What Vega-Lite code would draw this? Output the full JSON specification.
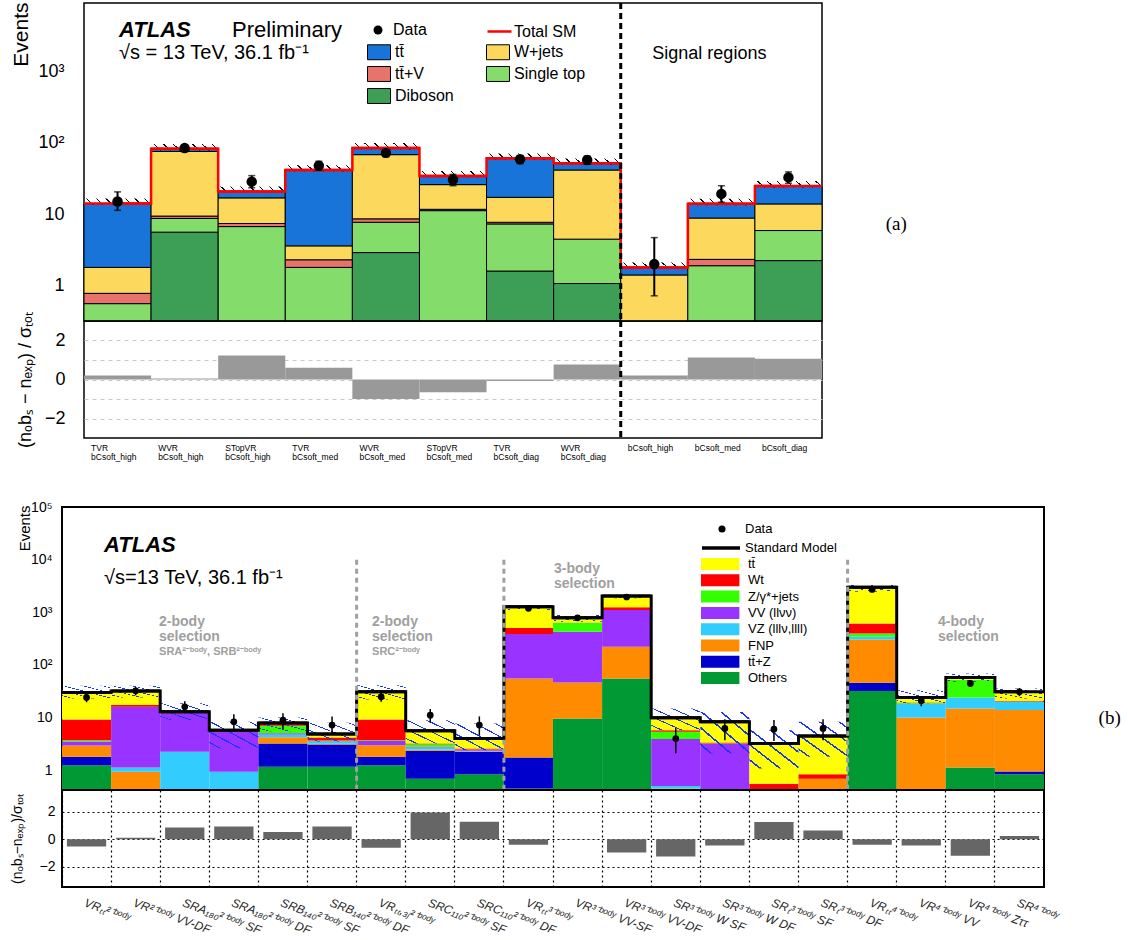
{
"$schema": "https://vega.github.io/schema/vega-lite/v6.json",
"background": "white",
"padding": {"left": 8, "top": 0, "right": 0, "bottom": 0},
"spacing": 37,
"datasets": {
 "a_procs": [{"proc":"Diboson","order":1},{"proc":"Single top","order":2},{"proc":"tt̄+V","order":3},{"proc":"W+jets","order":4},{"proc":"tt̄","order":5}],
 "a_comp": [
  {"bin":"TVR bCsoft_high","proc":"Single top","value":0.56},{"bin":"TVR bCsoft_high","proc":"tt̄+V","value":0.22},{"bin":"TVR bCsoft_high","proc":"W+jets","value":1.02},{"bin":"TVR bCsoft_high","proc":"tt̄","value":12.3},
  {"bin":"WVR bCsoft_high","proc":"Diboson","value":5.6},{"bin":"WVR bCsoft_high","proc":"Single top","value":3.1},{"bin":"WVR bCsoft_high","proc":"tt̄+V","value":0.7},{"bin":"WVR bCsoft_high","proc":"W+jets","value":66},{"bin":"WVR bCsoft_high","proc":"tt̄","value":7},
  {"bin":"STopVR bCsoft_high","proc":"Single top","value":6.7},{"bin":"STopVR bCsoft_high","proc":"tt̄+V","value":0.7},{"bin":"STopVR bCsoft_high","proc":"W+jets","value":9.5},{"bin":"STopVR bCsoft_high","proc":"tt̄","value":3.9},
  {"bin":"TVR bCsoft_med","proc":"Single top","value":1.8},{"bin":"TVR bCsoft_med","proc":"tt̄+V","value":0.5},{"bin":"TVR bCsoft_med","proc":"W+jets","value":1.3},{"bin":"TVR bCsoft_med","proc":"tt̄","value":37.9},
  {"bin":"WVR bCsoft_med","proc":"Diboson","value":2.9},{"bin":"WVR bCsoft_med","proc":"Single top","value":4.8},{"bin":"WVR bCsoft_med","proc":"tt̄+V","value":0.9},{"bin":"WVR bCsoft_med","proc":"W+jets","value":59.4},{"bin":"WVR bCsoft_med","proc":"tt̄","value":16.3},
  {"bin":"STopVR bCsoft_med","proc":"Single top","value":11.2},{"bin":"STopVR bCsoft_med","proc":"tt̄+V","value":0.5},{"bin":"STopVR bCsoft_med","proc":"W+jets","value":14.2},{"bin":"STopVR bCsoft_med","proc":"tt̄","value":8.3},
  {"bin":"TVR bCsoft_diag","proc":"Diboson","value":1.6},{"bin":"TVR bCsoft_diag","proc":"Single top","value":5.7},{"bin":"TVR bCsoft_diag","proc":"tt̄+V","value":0.4},{"bin":"TVR bCsoft_diag","proc":"W+jets","value":9.5},{"bin":"TVR bCsoft_diag","proc":"tt̄","value":43.2},
  {"bin":"WVR bCsoft_diag","proc":"Diboson","value":1.07},{"bin":"WVR bCsoft_diag","proc":"Single top","value":3.4},{"bin":"WVR bCsoft_diag","proc":"W+jets","value":37},{"bin":"WVR bCsoft_diag","proc":"tt̄","value":9.9},
  {"bin":"bCsoft_high","proc":"W+jets","value":1.41},{"bin":"bCsoft_high","proc":"tt̄","value":0.39},
  {"bin":"bCsoft_med","proc":"Single top","value":1.9},{"bin":"bCsoft_med","proc":"tt̄+V","value":0.43},{"bin":"bCsoft_med","proc":"W+jets","value":6.5},{"bin":"bCsoft_med","proc":"tt̄","value":5.2},
  {"bin":"bCsoft_diag","proc":"Diboson","value":2.24},{"bin":"bCsoft_diag","proc":"Single top","value":3.66},{"bin":"bCsoft_diag","proc":"W+jets","value":8.0},{"bin":"bCsoft_diag","proc":"tt̄","value":10.9}
 ],
 "a_bins": [
  {"bin":"TVR bCsoft_high","total":14.1,"sm_lo":13.4,"sm_hi":16.5,"data":15,"data_lo":11.3,"data_hi":20.5,"pull":0.2},
  {"bin":"WVR bCsoft_high","total":82.4,"sm_lo":78,"sm_hi":96,"data":84,"data_lo":75,"data_hi":93,"pull":0.05},
  {"bin":"STopVR bCsoft_high","total":20.8,"sm_lo":19.8,"sm_hi":24.3,"data":28.5,"data_lo":23.4,"data_hi":34.6,"pull":1.23},
  {"bin":"TVR bCsoft_med","total":41.5,"sm_lo":39.4,"sm_hi":48.5,"data":47.7,"data_lo":41,"data_hi":55,"pull":0.6},
  {"bin":"WVR bCsoft_med","total":84.3,"sm_lo":80,"sm_hi":98.6,"data":72,"data_lo":63.5,"data_hi":80.5,"pull":-1.0},
  {"bin":"STopVR bCsoft_med","total":34.2,"sm_lo":32.5,"sm_hi":40,"data":30.4,"data_lo":25,"data_hi":36,"pull":-0.65},
  {"bin":"TVR bCsoft_diag","total":60.4,"sm_lo":57.4,"sm_hi":70.7,"data":58.5,"data_lo":51,"data_hi":66,"pull":-0.08},
  {"bin":"WVR bCsoft_diag","total":51.4,"sm_lo":48.8,"sm_hi":60.1,"data":57.3,"data_lo":50,"data_hi":65,"pull":0.77},
  {"bin":"bCsoft_high","total":1.8,"sm_lo":1.71,"sm_hi":2.1,"data":2.0,"data_lo":0.72,"data_hi":4.7,"pull":0.2},
  {"bin":"bCsoft_med","total":14.0,"sm_lo":13.3,"sm_hi":16.4,"data":19.2,"data_lo":14.7,"data_hi":25,"pull":1.13},
  {"bin":"bCsoft_diag","total":24.8,"sm_lo":23.6,"sm_hi":29,"data":32.7,"data_lo":27,"data_hi":39,"pull":1.06}
 ],
 "b_procs": [{"proc":"Others","order":1},{"proc":"tt̄+Z","order":2},{"proc":"FNP","order":3},{"proc":"VZ (lllν,llll)","order":4},{"proc":"VV (llνν)","order":5},{"proc":"Z/γ*+jets","order":6},{"proc":"Wt","order":7},{"proc":"tt̄","order":8}],
 "b_comp": [
  {"bin":"b01","proc":"Others","value":1.24},{"bin":"b01","proc":"tt̄+Z","value":0.55},{"bin":"b01","proc":"FNP","value":1.16},{"bin":"b01","proc":"VV (llνν)","value":0.55},{"bin":"b01","proc":"Z/γ*+jets","value":0.2},{"bin":"b01","proc":"Wt","value":5.5},{"bin":"b01","proc":"tt̄","value":20.8},
  {"bin":"b02","proc":"FNP","value":0.93},{"bin":"b02","proc":"VZ (lllν,llll)","value":0.19},{"bin":"b02","proc":"VV (llνν)","value":14.9},{"bin":"b02","proc":"Wt","value":1.2},{"bin":"b02","proc":"tt̄","value":14.6},
  {"bin":"b03","proc":"VZ (lllν,llll)","value":2.23},{"bin":"b03","proc":"VV (llνν)","value":10.7},
  {"bin":"b04","proc":"VZ (lllν,llll)","value":0.93},{"bin":"b04","proc":"VV (llνν)","value":4.4},{"bin":"b04","proc":"tt̄","value":0.4},
  {"bin":"b05","proc":"Others","value":1.16},{"bin":"b05","proc":"tt̄+Z","value":2.04},{"bin":"b05","proc":"FNP","value":1.0},{"bin":"b05","proc":"VZ (lllν,llll)","value":0.57},{"bin":"b05","proc":"VV (llνν)","value":0.25},{"bin":"b05","proc":"Z/γ*+jets","value":1.95},{"bin":"b05","proc":"Wt","value":0.5},{"bin":"b05","proc":"tt̄","value":0.4},
  {"bin":"b06","proc":"Others","value":1.16},{"bin":"b06","proc":"tt̄+Z","value":1.9},{"bin":"b06","proc":"FNP","value":0.1},{"bin":"b06","proc":"VZ (lllν,llll)","value":0.3},{"bin":"b06","proc":"VV (llνν)","value":0.1},{"bin":"b06","proc":"Z/γ*+jets","value":0.1},{"bin":"b06","proc":"Wt","value":0.5},{"bin":"b06","proc":"tt̄","value":0.7},
  {"bin":"b07","proc":"Others","value":1.24},{"bin":"b07","proc":"tt̄+Z","value":0.55},{"bin":"b07","proc":"FNP","value":1.2},{"bin":"b07","proc":"VV (llνν)","value":0.6},{"bin":"b07","proc":"Z/γ*+jets","value":0.13},{"bin":"b07","proc":"Wt","value":5.5},{"bin":"b07","proc":"tt̄","value":21.6},
  {"bin":"b08","proc":"Others","value":0.69},{"bin":"b08","proc":"tt̄+Z","value":1.64},{"bin":"b08","proc":"FNP","value":0.14},{"bin":"b08","proc":"VZ (lllν,llll)","value":0.23},{"bin":"b08","proc":"VV (llνν)","value":0.1},{"bin":"b08","proc":"Z/γ*+jets","value":0.32},{"bin":"b08","proc":"Wt","value":0.1},{"bin":"b08","proc":"tt̄","value":2.4},
  {"bin":"b09","proc":"Others","value":0.84},{"bin":"b09","proc":"tt̄+Z","value":1.39},{"bin":"b09","proc":"FNP","value":0.05},{"bin":"b09","proc":"VZ (lllν,llll)","value":0.05},{"bin":"b09","proc":"VV (llνν)","value":0.1},{"bin":"b09","proc":"Z/γ*+jets","value":0.05},{"bin":"b09","proc":"Wt","value":0.1},{"bin":"b09","proc":"tt̄","value":1.4},
  {"bin":"b10","proc":"Others","value":0.45},{"bin":"b10","proc":"tt̄+Z","value":1.3},{"bin":"b10","proc":"FNP","value":53.7},{"bin":"b10","proc":"VV (llνν)","value":330},{"bin":"b10","proc":"Wt","value":116},{"bin":"b10","proc":"tt̄","value":773},
  {"bin":"b11","proc":"Others","value":9.6},{"bin":"b11","proc":"FNP","value":36.9},{"bin":"b11","proc":"VV (llνν)","value":380},{"bin":"b11","proc":"Z/γ*+jets","value":205},{"bin":"b11","proc":"Wt","value":5},{"bin":"b11","proc":"tt̄","value":150},
  {"bin":"b12","proc":"Others","value":55.4},{"bin":"b12","proc":"FNP","value":166},{"bin":"b12","proc":"VV (llνν)","value":879},{"bin":"b12","proc":"Wt","value":140},{"bin":"b12","proc":"tt̄","value":792},
  {"bin":"b13","proc":"FNP","value":0.45},{"bin":"b13","proc":"VZ (lllν,llll)","value":0.05},{"bin":"b13","proc":"VV (llνν)","value":3.4},{"bin":"b13","proc":"Z/γ*+jets","value":1.45},{"bin":"b13","proc":"Wt","value":0.4},{"bin":"b13","proc":"tt̄","value":4.15},
  {"bin":"b14","proc":"FNP","value":0.05},{"bin":"b14","proc":"VV (llνν)","value":3.1},{"bin":"b14","proc":"Z/γ*+jets","value":0.05},{"bin":"b14","proc":"Wt","value":0.15},{"bin":"b14","proc":"tt̄","value":5.0},
  {"bin":"b15","proc":"Others","value":0.05},{"bin":"b15","proc":"Z/γ*+jets","value":0.1},{"bin":"b15","proc":"Wt","value":0.4},{"bin":"b15","proc":"tt̄","value":2.65},
  {"bin":"b16","proc":"FNP","value":0.69},{"bin":"b16","proc":"Wt","value":0.15},{"bin":"b16","proc":"tt̄","value":3.6},
  {"bin":"b17","proc":"Others","value":31.8},{"bin":"b17","proc":"tt̄+Z","value":13.9},{"bin":"b17","proc":"FNP","value":259},{"bin":"b17","proc":"VZ (lllν,llll)","value":37},{"bin":"b17","proc":"Z/γ*+jets","value":54},{"bin":"b17","proc":"Wt","value":219},{"bin":"b17","proc":"tt̄","value":2359},
  {"bin":"b18","proc":"FNP","value":10},{"bin":"b18","proc":"VZ (lllν,llll)","value":8},{"bin":"b18","proc":"VV (llνν)","value":0.3},{"bin":"b18","proc":"Z/γ*+jets","value":0.5},{"bin":"b18","proc":"Wt","value":0.5},{"bin":"b18","proc":"tt̄","value":4.8},
  {"bin":"b19","proc":"Others","value":1.12},{"bin":"b19","proc":"FNP","value":13.8},{"bin":"b19","proc":"VZ (lllν,llll)","value":9.2},{"bin":"b19","proc":"Z/γ*+jets","value":27.3},{"bin":"b19","proc":"Wt","value":0.3},{"bin":"b19","proc":"tt̄","value":6.1},
  {"bin":"b20","proc":"Others","value":0.84},{"bin":"b20","proc":"tt̄+Z","value":0.1},{"bin":"b20","proc":"FNP","value":12.9},{"bin":"b20","proc":"VZ (lllν,llll)","value":6.1},{"bin":"b20","proc":"Z/γ*+jets","value":0.3},{"bin":"b20","proc":"Wt","value":0.5},{"bin":"b20","proc":"tt̄","value":10.2}
 ],
 "b_bins": [
  {"bin":"b01","label":"VRₜₜ²⁻ᵇᵒᵈʸ","total":30.0,"sm_lo":23,"sm_hi":40,"data":24.1,"data_lo":19.5,"data_hi":29.5,"pull":-0.54},
  {"bin":"b02","label":"VR²⁻ᵇᵒᵈʸ VV-DF","total":31.8,"sm_lo":24,"sm_hi":40,"data":32.2,"data_lo":26.5,"data_hi":38,"pull":0.1},
  {"bin":"b03","label":"SRA₁₈₀²⁻ᵇᵒᵈʸ SF","total":12.9,"sm_lo":9,"sm_hi":18.6,"data":16,"data_lo":12,"data_hi":20.5,"pull":0.85},
  {"bin":"b04","label":"SRA₁₈₀²⁻ᵇᵒᵈʸ DF","total":5.73,"sm_lo":2.6,"sm_hi":8.3,"data":8.3,"data_lo":5.5,"data_hi":11.5,"pull":0.92},
  {"bin":"b05","label":"SRB₁₄₀²⁻ᵇᵒᵈʸ SF","total":7.9,"sm_lo":5.5,"sm_hi":10,"data":8.9,"data_lo":6,"data_hi":12,"pull":0.53},
  {"bin":"b06","label":"SRB₁₄₀²⁻ᵇᵒᵈʸ DF","total":4.86,"sm_lo":3.5,"sm_hi":8,"data":7.2,"data_lo":4.7,"data_hi":10.5,"pull":0.92},
  {"bin":"b07","label":"VRₜₜ,₃ⱼ²⁻ᵇᵒᵈʸ","total":30.8,"sm_lo":22,"sm_hi":41,"data":24.8,"data_lo":20,"data_hi":30,"pull":-0.63},
  {"bin":"b08","label":"SRC₁₁₀²⁻ᵇᵒᵈʸ SF","total":5.62,"sm_lo":3.2,"sm_hi":8.9,"data":11.1,"data_lo":8,"data_hi":14.5,"pull":1.96},
  {"bin":"b09","label":"SRC₁₁₀²⁻ᵇᵒᵈʸ DF","total":3.98,"sm_lo":2.4,"sm_hi":7.7,"data":7.2,"data_lo":4.5,"data_hi":10.5,"pull":1.28},
  {"bin":"b10","label":"VRₜₜ³⁻ᵇᵒᵈʸ","total":1274,"sm_lo":1100,"sm_hi":1370,"data":1186,"data_lo":1152,"data_hi":1220,"pull":-0.41},
  {"bin":"b11","label":"VR³⁻ᵇᵒᵈʸ VV-SF","total":786,"sm_lo":660,"sm_hi":890,"data":786,"data_lo":758,"data_hi":814,"pull":-0.03},
  {"bin":"b12","label":"VR³⁻ᵇᵒᵈʸ VV-DF","total":2032,"sm_lo":1840,"sm_hi":2130,"data":1950,"data_lo":1906,"data_hi":1994,"pull":-0.97},
  {"bin":"b13","label":"SR³⁻ᵇᵒᵈʸ W SF","total":9.9,"sm_lo":5.75,"sm_hi":14.9,"data":4.0,"data_lo":2.1,"data_hi":6.3,"pull":-1.26},
  {"bin":"b14","label":"SR³⁻ᵇᵒᵈʸ W DF","total":8.35,"sm_lo":2.07,"sm_hi":12.8,"data":6.2,"data_lo":3.7,"data_hi":9.3,"pull":-0.46},
  {"bin":"b15","label":"SRₜ³⁻ᵇᵒᵈʸ SF","total":3.2,"sm_lo":1.08,"sm_hi":5.75,"data":6.0,"data_lo":3.6,"data_hi":9,"pull":1.26},
  {"bin":"b16","label":"SRₜ³⁻ᵇᵒᵈʸ DF","total":4.44,"sm_lo":1.79,"sm_hi":8.3,"data":6.2,"data_lo":3.7,"data_hi":9.3,"pull":0.63},
  {"bin":"b17","label":"VRₜₜ⁴⁻ᵇᵒᵈʸ","total":2974,"sm_lo":2450,"sm_hi":3300,"data":2720,"data_lo":2668,"data_hi":2772,"pull":-0.41},
  {"bin":"b18","label":"VR⁴⁻ᵇᵒᵈʸ VV","total":24.1,"sm_lo":18.6,"sm_hi":33,"data":20.8,"data_lo":16.4,"data_hi":25.5,"pull":-0.46},
  {"bin":"b19","label":"VR⁴⁻ᵇᵒᵈʸ Zττ","total":57.8,"sm_lo":47.6,"sm_hi":69,"data":44.5,"data_lo":38,"data_hi":51.5,"pull":-1.21},
  {"bin":"b20","label":"SR⁴⁻ᵇᵒᵈʸ","total":30.9,"sm_lo":23,"sm_hi":35.8,"data":30.8,"data_lo":25.5,"data_hi":36.5,"pull":0.24}
 ]
},
"vconcat": [
 {
  "hconcat": [
   {
    "width": 1, "height": 1,
    "data": {"values": [{}]},
    "mark": {"type": "point", "opacity": 0},
    "encoding": {},
    "view": {"stroke": null}
   },
   {
    "vconcat": [
     {
      "width": 738, "height": 318,
      "title": {"text": "(a)", "orient": "right", "anchor": "middle", "angle": 0, "font": "Liberation Serif", "fontSize": 19, "fontWeight": "normal", "offset": 52, "dy": 53},
      "resolve": {"axis": {"y": "independent"}},
      "layer": [
       {
        "data": {"name": "a_comp"},
        "transform": [
         {"lookup": "proc", "from": {"data": {"name": "a_procs"}, "key": "proc", "fields": ["order"]}},
         {"stack": "value", "groupby": ["bin"], "sort": [{"field": "order", "order": "ascending"}], "as": ["y0", "y1"]}
        ],
        "mark": {"type": "bar", "stroke": "black", "strokeWidth": 1},
        "encoding": {
         "x": {"field": "bin", "type": "nominal",
               "scale": {"domain": ["TVR bCsoft_high","WVR bCsoft_high","STopVR bCsoft_high","TVR bCsoft_med","WVR bCsoft_med","STopVR bCsoft_med","TVR bCsoft_diag","WVR bCsoft_diag","bCsoft_high","bCsoft_med","bCsoft_diag"], "paddingInner": 0, "paddingOuter": 0},
               "axis": {"orient": "top", "title": null, "labels": false, "bandPosition": 0, "tickSize": 0, "domain": false, "encode": {"ticks": {"update": {"y2": {"value": 9}}}}}},
         "y": {"field": "y1", "type": "quantitative", "title": "Events",
               "scale": {"type": "log", "domain": [0.32, 9000], "clamp": true, "nice": false},
               "axis": {"title": "Events", "titleFontSize": 21, "titleX": -74, "titleY": -1, "titleAngle": -90, "titleAlign": "right", "titleBaseline": "top",
                        "values": [0.4,0.5,0.6,0.7,0.8,0.9,1,2,3,4,5,6,7,8,9,10,20,30,40,50,60,70,80,90,100,200,300,400,500,600,700,800,900,1000,2000,3000,4000,5000,6000,7000,8000,9000],
                        "labelExpr": "datum.value == 1 ? '1' : datum.value == 10 ? '10' : datum.value == 100 ? '10²' : datum.value == 1000 ? '10³' : ''",
                        "labelFontSize": {"condition": {"test": "abs(log(datum.value)/LN10 - round(log(datum.value)/LN10)) < 0.001", "value": 18}, "value": 0},
                        "labelPadding": 20, "labelOverlap": false, "tickSize": 0, "domain": false,
                        "encode": {"ticks": {"update": {"x2": {"signal": "abs(log(datum.value)/LN10 - round(log(datum.value)/LN10)) < 0.001 ? 14 : 7"}}}}}},
         "y2": {"field": "y0"},
         "fill": {"field": "proc", "type": "nominal",
                  "scale": {"domain": ["tt̄","tt̄+V","Diboson","W+jets","Single top"], "range": ["#1874d8","#e8736a","#3d9e55","#fcd95c","#84dd6b"]},
                  "legend": {"title": null, "orient": "none", "legendX": 283, "legendY": 37, "columns": 2, "columnPadding": 30, "rowPadding": 0, "padding": 0,
                             "symbolType": "M-1,-0.65H1V0.65H-1Z", "symbolSize": 529, "symbolStrokeColor": "black", "symbolStrokeWidth": 1, "labelFontSize": 16, "labelOffset": 4}}
        }
       },
       {
        "data": {"name": "a_bins"},
        "mark": {"type": "bar", "stroke": null, "fill": {"gradient": "linear", "x1": 0, "y1": 0.1, "x2": 1, "y2": 0, "stops": [
          {"offset":0,"color":"rgba(0,0,0,0)"},
          {"offset":0.04,"color":"rgba(0,0,0,0)"},{"offset":0.04,"color":"#000"},{"offset":0.06,"color":"#000"},{"offset":0.06,"color":"rgba(0,0,0,0)"},
          {"offset":0.183,"color":"rgba(0,0,0,0)"},{"offset":0.183,"color":"#000"},{"offset":0.203,"color":"#000"},{"offset":0.203,"color":"rgba(0,0,0,0)"},
          {"offset":0.326,"color":"rgba(0,0,0,0)"},{"offset":0.326,"color":"#000"},{"offset":0.346,"color":"#000"},{"offset":0.346,"color":"rgba(0,0,0,0)"},
          {"offset":0.469,"color":"rgba(0,0,0,0)"},{"offset":0.469,"color":"#000"},{"offset":0.489,"color":"#000"},{"offset":0.489,"color":"rgba(0,0,0,0)"},
          {"offset":0.611,"color":"rgba(0,0,0,0)"},{"offset":0.611,"color":"#000"},{"offset":0.631,"color":"#000"},{"offset":0.631,"color":"rgba(0,0,0,0)"},
          {"offset":0.754,"color":"rgba(0,0,0,0)"},{"offset":0.754,"color":"#000"},{"offset":0.774,"color":"#000"},{"offset":0.774,"color":"rgba(0,0,0,0)"},
          {"offset":0.897,"color":"rgba(0,0,0,0)"},{"offset":0.897,"color":"#000"},{"offset":0.917,"color":"#000"},{"offset":0.917,"color":"rgba(0,0,0,0)"},
          {"offset":1,"color":"rgba(0,0,0,0)"}]}},
        "encoding": {"x": {"field": "bin", "type": "nominal"}, "y": {"field": "sm_lo", "type": "quantitative", "axis": null}, "y2": {"field": "sm_hi"}}
       },
       {
        "data": {"name": "a_bins"},
        "mark": {"type": "bar", "fill": "transparent", "stroke": "#ff0000", "strokeWidth": 2.5},
        "encoding": {"x": {"field": "bin", "type": "nominal"}, "y": {"field": "total", "type": "quantitative", "axis": null}, "y2": {"field": "total"}}
       },
       {
        "data": {"name": "a_bins"},
        "mark": {"type": "line", "interpolate": "step", "strokeWidth": 2.5},
        "encoding": {"x": {"field": "bin", "type": "nominal"}, "y": {"field": "total", "type": "quantitative", "axis": null}, "order": {"value": null},
                     "stroke": {"datum": "Total SM", "type": "nominal", "scale": {"domain": ["Total SM"], "range": ["#ff0000"]},
                                "legend": {"title": null, "orient": "none", "legendX": 402, "legendY": 15, "padding": 0, "symbolSize": 576, "symbolStrokeWidth": 2.5, "labelFontSize": 16, "labelOffset": 1}}}
       },
       {
        "data": {"values": [{"bin": "bCsoft_high"}]},
        "mark": {"type": "rule", "color": "black", "strokeWidth": 3, "strokeDash": [6, 4]},
        "encoding": {"x": {"field": "bin", "type": "nominal", "bandPosition": 0}}
       },
       {
        "data": {"name": "a_bins"},
        "mark": {"type": "errorbar", "ticks": {"size": 7, "thickness": 1.5, "color": "black"}, "rule": {"strokeWidth": 2, "color": "black"}},
        "encoding": {"x": {"field": "bin", "type": "nominal"}, "y": {"field": "data_lo", "type": "quantitative", "axis": null}, "y2": {"field": "data_hi"}}
       },
       {
        "data": {"name": "a_bins"},
        "mark": {"type": "point", "filled": true, "size": 110, "color": "black", "opacity": 1},
        "encoding": {"x": {"field": "bin", "type": "nominal"},
                     "y": {"field": "data", "type": "quantitative",
                           "axis": {"orient": "right", "title": null, "labels": false, "domain": false, "tickSize": 0,
                                    "values": [0.4,0.5,0.6,0.7,0.8,0.9,1,2,3,4,5,6,7,8,9,10,20,30,40,50,60,70,80,90,100,200,300,400,500,600,700,800,900,1000,2000,3000,4000,5000,6000,7000,8000,9000],
                                    "encode": {"ticks": {"update": {"x2": {"signal": "abs(log(datum.value)/LN10 - round(log(datum.value)/LN10)) < 0.001 ? -14 : -7"}}}}}},
                     "shape": {"datum": "Data", "type": "nominal", "scale": {"domain": ["Data"], "range": ["circle"]},
                               "legend": {"title": null, "orient": "none", "legendX": 286, "legendY": 19, "padding": 0, "symbolSize": 80, "symbolFillColor": "black", "symbolStrokeColor": "black", "labelFontSize": 16, "labelOffset": 7}}}
       },
       {
        "data": {"values": [{}]},
        "mark": {"type": "text", "text": "ATLAS", "fontSize": 22, "fontWeight": "bold", "fontStyle": "italic", "align": "left", "baseline": "middle", "dx": 1.5},
        "encoding": {"x": {"datum": "TVR bCsoft_high"}, "y": {"datum": 3802, "axis": null}}
       },
       {
        "data": {"values": [{}]},
        "mark": {"type": "text", "text": "Preliminary", "fontSize": 22, "align": "left", "baseline": "middle", "dx": 114.5},
        "encoding": {"x": {"datum": "TVR bCsoft_high"}, "y": {"datum": 3802, "axis": null}}
       },
       {
        "data": {"values": [{}]},
        "mark": {"type": "text", "text": "√s = 13 TeV, 36.1 fb⁻¹", "fontSize": 20, "align": "left", "baseline": "middle", "dx": 1.5},
        "encoding": {"x": {"datum": "TVR bCsoft_high"}, "y": {"datum": 1815, "axis": null}}
       },
       {
        "data": {"values": [{}]},
        "mark": {"type": "text", "text": "Signal regions", "fontSize": 18, "align": "center", "baseline": "middle", "dx": -12},
        "encoding": {"x": {"datum": "bCsoft_med"}, "y": {"datum": 1760, "axis": null}}
       }
      ]
     },
     {
      "width": 738, "height": 117,
      "layer": [
       {
        "data": {"name": "a_bins"},
        "mark": {"type": "bar", "color": "#999999"},
        "encoding": {
         "x": {"field": "bin", "type": "nominal",
               "scale": {"domain": ["TVR bCsoft_high","WVR bCsoft_high","STopVR bCsoft_high","TVR bCsoft_med","WVR bCsoft_med","STopVR bCsoft_med","TVR bCsoft_diag","WVR bCsoft_diag","bCsoft_high","bCsoft_med","bCsoft_diag"], "paddingInner": 0, "paddingOuter": 0},
               "axis": {"title": null, "bandPosition": 0, "ticks": false, "domain": false, "labelAngle": 0, "labelAlign": "left", "labelBaseline": "top", "labelOffset": -26.5, "labelPadding": 5,
                        "labelFontSize": 8.5, "labelLineHeight": 9.5, "labelExpr": "split(datum.label, ' ')", "labelLimit": 0, "labelOverlap": false}},
         "y": {"field": "pull", "type": "quantitative",
               "scale": {"domain": [-3, 3], "nice": false},
               "axis": {"values": [-2,-1,0,1,2], "labelExpr": "datum.value == 2 ? '2' : datum.value == 0 ? '0' : datum.value == -2 ? '−2' : ''",
                        "labelFontSize": 18, "labelPadding": 19, "tickSize": 0, "domain": false,
                        "encode": {"ticks": {"update": {"x2": {"signal": "datum.value % 2 == 0 ? 14 : 7"}}}},
                        "grid": true, "gridDash": [4, 4], "gridColor": "#c8c8c8",
                        "title": "(nₒbₛ − nₑₓₚ) / σₜₒₜ", "titleFontSize": 18, "titleX": -68, "titleY": 58.5, "titleAngle": -90, "titleAlign": "center", "titleBaseline": "top"}},
         "y2": {"datum": 0}
        }
       },
       {
        "data": {"values": [{"bin": "bCsoft_high"}]},
        "mark": {"type": "rule", "color": "black", "strokeWidth": 3, "strokeDash": [6, 4]},
        "encoding": {"x": {"field": "bin", "type": "nominal", "bandPosition": 0}}
       }
      ]
     }
    ],
    "spacing": 0,
    "bounds": "flush",
    "resolve": {"scale": {"x": "independent", "y": "independent", "fill": "independent", "stroke": "independent", "shape": "independent"}}
   }
  ],
  "spacing": 21,
  "bounds": "flush",
  "resolve": {"scale": {"x": "independent", "y": "independent", "fill": "independent", "stroke": "independent", "shape": "independent"}}
 },
 {
  "vconcat": [
   {
    "width": 982, "height": 283,
    "view": {"stroke": "black", "strokeWidth": 2},
    "title": {"text": "(b)", "orient": "right", "anchor": "middle", "angle": 0, "font": "Liberation Serif", "fontSize": 19, "fontWeight": "normal", "offset": 42, "dy": 60},
    "resolve": {"axis": {"y": "independent"}},
    "layer": [
     {
      "data": {"name": "b_comp"},
      "transform": [
       {"lookup": "bin", "from": {"data": {"name": "b_bins"}, "key": "bin", "fields": ["label"]}},
       {"lookup": "proc", "from": {"data": {"name": "b_procs"}, "key": "proc", "fields": ["order"]}},
       {"stack": "value", "groupby": ["bin"], "sort": [{"field": "order", "order": "ascending"}], "as": ["y0", "y1"]}
      ],
      "mark": {"type": "bar", "stroke": null},
      "encoding": {
       "x": {"field": "label", "type": "nominal",
             "scale": {"domain": ["VRₜₜ²⁻ᵇᵒᵈʸ","VR²⁻ᵇᵒᵈʸ VV-DF","SRA₁₈₀²⁻ᵇᵒᵈʸ SF","SRA₁₈₀²⁻ᵇᵒᵈʸ DF","SRB₁₄₀²⁻ᵇᵒᵈʸ SF","SRB₁₄₀²⁻ᵇᵒᵈʸ DF","VRₜₜ,₃ⱼ²⁻ᵇᵒᵈʸ","SRC₁₁₀²⁻ᵇᵒᵈʸ SF","SRC₁₁₀²⁻ᵇᵒᵈʸ DF","VRₜₜ³⁻ᵇᵒᵈʸ","VR³⁻ᵇᵒᵈʸ VV-SF","VR³⁻ᵇᵒᵈʸ VV-DF","SR³⁻ᵇᵒᵈʸ W SF","SR³⁻ᵇᵒᵈʸ W DF","SRₜ³⁻ᵇᵒᵈʸ SF","SRₜ³⁻ᵇᵒᵈʸ DF","VRₜₜ⁴⁻ᵇᵒᵈʸ","VR⁴⁻ᵇᵒᵈʸ VV","VR⁴⁻ᵇᵒᵈʸ Zττ","SR⁴⁻ᵇᵒᵈʸ"], "paddingInner": 0, "paddingOuter": 0},
             "axis": {"orient": "top", "title": null, "labels": false, "bandPosition": 0, "tickSize": 0, "domain": false, "tickWidth": 1.5, "encode": {"ticks": {"update": {"y2": {"value": 8}}}}}},
       "y": {"field": "y1", "type": "quantitative", "title": "Events",
             "scale": {"type": "log", "domain": [0.42, 100000], "clamp": true, "nice": false},
             "axis": {"title": "Events", "titleFontSize": 15, "titleX": -45, "titleY": -2, "titleAngle": -90, "titleAlign": "right", "titleBaseline": "top",
                      "values": [0.5,0.6,0.7,0.8,0.9,1,2,3,4,5,6,7,8,9,10,20,30,40,50,60,70,80,90,100,200,300,400,500,600,700,800,900,1000,2000,3000,4000,5000,6000,7000,8000,9000,10000,20000,30000,40000,50000,60000,70000,80000,90000,100000],
                      "labelExpr": "datum.value == 1 ? '1' : datum.value == 10 ? '10' : datum.value == 100 ? '10²' : datum.value == 1000 ? '10³' : datum.value == 10000 ? '10⁴' : datum.value == 100000 ? '10⁵' : ''",
                      "labelFontSize": {"condition": {"test": "abs(log(datum.value)/LN10 - round(log(datum.value)/LN10)) < 0.001", "value": 14}, "value": 0},
                      "labelPadding": 10, "labelOverlap": false, "tickSize": 0, "domain": false, "tickWidth": 1.5,
                      "encode": {"ticks": {"update": {"x2": {"signal": "abs(log(datum.value)/LN10 - round(log(datum.value)/LN10)) < 0.001 ? 14 : 7"}}}}}},
       "y2": {"field": "y0"},
       "fill": {"field": "proc", "type": "nominal",
                "scale": {"domain": ["tt̄","Wt","Z/γ*+jets","VV (llνν)","VZ (lllν,llll)","FNP","tt̄+Z","Others"], "range": ["#ffff00","#ff0000","#33ff00","#9933ff","#33ccff","#ff8c00","#0000cc","#009933"]},
                "legend": {"title": null, "orient": "none", "legendX": 649.2, "legendY": 48, "columns": 1, "rowPadding": 0.3, "padding": 0,
                           "symbolType": "M-2.4,-0.75H2.4V0.75H-2.4Z", "symbolSize": 256, "labelFontSize": 13, "labelOffset": 18.8}}
      }
     },
     {
      "data": {"name": "b_bins"},
      "mark": {"type": "bar", "stroke": null, "fill": {"gradient": "linear", "x1": 0, "y1": 1, "x2": 1, "y2": 0, "stops": [
        {"offset":0,"color":"rgba(0,0,255,0)"},
        {"offset":0.1,"color":"rgba(0,0,255,0)"},{"offset":0.1,"color":"#1a33ff"},{"offset":0.125,"color":"#1a33ff"},{"offset":0.125,"color":"rgba(0,0,255,0)"},
        {"offset":0.3,"color":"rgba(0,0,255,0)"},{"offset":0.3,"color":"#1a33ff"},{"offset":0.325,"color":"#1a33ff"},{"offset":0.325,"color":"rgba(0,0,255,0)"},
        {"offset":0.5,"color":"rgba(0,0,255,0)"},{"offset":0.5,"color":"#1a33ff"},{"offset":0.525,"color":"#1a33ff"},{"offset":0.525,"color":"rgba(0,0,255,0)"},
        {"offset":0.7,"color":"rgba(0,0,255,0)"},{"offset":0.7,"color":"#1a33ff"},{"offset":0.725,"color":"#1a33ff"},{"offset":0.725,"color":"rgba(0,0,255,0)"},
        {"offset":0.9,"color":"rgba(0,0,255,0)"},{"offset":0.9,"color":"#1a33ff"},{"offset":0.925,"color":"#1a33ff"},{"offset":0.925,"color":"rgba(0,0,255,0)"},
        {"offset":1,"color":"rgba(0,0,255,0)"}]}},
      "encoding": {"x": {"field": "label", "type": "nominal"}, "y": {"field": "sm_lo", "type": "quantitative", "axis": null}, "y2": {"field": "sm_hi"}}
     },
     {
      "data": {"name": "b_bins"},
      "mark": {"type": "bar", "fill": "transparent", "stroke": "black", "strokeWidth": 3},
      "encoding": {"x": {"field": "label", "type": "nominal"}, "y": {"field": "total", "type": "quantitative", "axis": null}, "y2": {"field": "total"}}
     },
     {
      "data": {"name": "b_bins"},
      "mark": {"type": "line", "interpolate": "step", "strokeWidth": 3},
      "encoding": {"x": {"field": "label", "type": "nominal"}, "y": {"field": "total", "type": "quantitative", "axis": null}, "order": {"value": null},
                   "stroke": {"datum": "Standard Model", "type": "nominal", "scale": {"domain": ["Standard Model"], "range": ["black"]},
                              "legend": {"title": null, "orient": "none", "legendX": 638, "legendY": 20, "padding": 0, "symbolSize": 1444, "symbolStrokeWidth": 3.5, "labelFontSize": 13, "labelOffset": 3}}}
     },
     {
      "data": {"values": [{"label": "VRₜₜ,₃ⱼ²⁻ᵇᵒᵈʸ"}, {"label": "VRₜₜ³⁻ᵇᵒᵈʸ"}, {"label": "VRₜₜ⁴⁻ᵇᵒᵈʸ"}]},
      "mark": {"type": "rule", "color": "#a0a0a0", "strokeWidth": 3, "strokeDash": [5, 4]},
      "encoding": {"x": {"field": "label", "type": "nominal", "bandPosition": 0}, "y": {"datum": 10000, "axis": null}, "y2": {"datum": 0.42}}
     },
     {
      "data": {"name": "b_bins"},
      "mark": {"type": "rule", "color": "black", "strokeWidth": 1.5},
      "encoding": {"x": {"field": "label", "type": "nominal"}, "y": {"field": "data_lo", "type": "quantitative", "axis": null}, "y2": {"field": "data_hi"}}
     },
     {
      "data": {"name": "b_bins"},
      "mark": {"type": "point", "filled": true, "size": 45, "color": "black", "opacity": 1},
      "encoding": {"x": {"field": "label", "type": "nominal"},
                   "y": {"field": "data", "type": "quantitative",
                         "axis": {"orient": "right", "title": null, "labels": false, "domain": false, "tickSize": 0, "tickWidth": 1.5,
                                  "values": [0.5,0.6,0.7,0.8,0.9,1,2,3,4,5,6,7,8,9,10,20,30,40,50,60,70,80,90,100,200,300,400,500,600,700,800,900,1000,2000,3000,4000,5000,6000,7000,8000,9000,10000,20000,30000,40000,50000,60000,70000,80000,90000,100000],
                                  "encode": {"ticks": {"update": {"x2": {"signal": "abs(log(datum.value)/LN10 - round(log(datum.value)/LN10)) < 0.001 ? -14 : -7"}}}}}},
                   "shape": {"datum": "Data", "type": "nominal", "scale": {"domain": ["Data"], "range": ["circle"]},
                             "legend": {"title": null, "orient": "none", "legendX": 653.5, "legendY": 15.5, "padding": 0, "symbolSize": 50, "symbolFillColor": "black", "symbolStrokeColor": "black", "labelFontSize": 13, "labelOffset": 16.5}}}
     },
     {
      "data": {"values": [{}]},
      "mark": {"type": "text", "text": "ATLAS", "fontSize": 22, "fontWeight": "bold", "fontStyle": "italic", "align": "left", "baseline": "middle", "dx": 17.5},
      "encoding": {"x": {"datum": "VRₜₜ²⁻ᵇᵒᵈʸ"}, "y": {"datum": 18960, "axis": null}}
     },
     {
      "data": {"values": [{}]},
      "mark": {"type": "text", "text": "√s=13 TeV, 36.1 fb⁻¹", "fontSize": 20, "align": "left", "baseline": "middle", "dx": 17.5},
      "encoding": {"x": {"datum": "VRₜₜ²⁻ᵇᵒᵈʸ"}, "y": {"datum": 4470, "axis": null}}
     },
     {
      "data": {"values": [{}]},
      "mark": {"type": "text", "text": ["2-body", "selection"], "fontSize": 14, "fontWeight": "bold", "color": "#a0a0a0", "align": "left", "baseline": "top", "lineHeight": 15, "dx": 72.5},
      "encoding": {"x": {"datum": "VRₜₜ²⁻ᵇᵒᵈʸ"}, "y": {"datum": 896, "axis": null}}
     },
     {
      "data": {"values": [{}]},
      "mark": {"type": "text", "text": "SRA²⁻ᵇᵒᵈʸ, SRB²⁻ᵇᵒᵈʸ", "fontSize": 11, "fontWeight": "bold", "color": "#a0a0a0", "align": "left", "baseline": "middle", "dx": 72.5},
      "encoding": {"x": {"datum": "VRₜₜ²⁻ᵇᵒᵈʸ"}, "y": {"datum": 177, "axis": null}}
     },
     {
      "data": {"values": [{}]},
      "mark": {"type": "text", "text": ["2-body", "selection"], "fontSize": 14, "fontWeight": "bold", "color": "#a0a0a0", "align": "left", "baseline": "top", "lineHeight": 15, "dx": 285.5},
      "encoding": {"x": {"datum": "VRₜₜ²⁻ᵇᵒᵈʸ"}, "y": {"datum": 896, "axis": null}}
     },
     {
      "data": {"values": [{}]},
      "mark": {"type": "text", "text": "SRC²⁻ᵇᵒᵈʸ", "fontSize": 11, "fontWeight": "bold", "color": "#a0a0a0", "align": "left", "baseline": "middle", "dx": 285.5},
      "encoding": {"x": {"datum": "VRₜₜ²⁻ᵇᵒᵈʸ"}, "y": {"datum": 177, "axis": null}}
     },
     {
      "data": {"values": [{}]},
      "mark": {"type": "text", "text": ["3-body", "selection"], "fontSize": 14, "fontWeight": "bold", "color": "#a0a0a0", "align": "left", "baseline": "top", "lineHeight": 15, "dx": 467.5},
      "encoding": {"x": {"datum": "VRₜₜ²⁻ᵇᵒᵈʸ"}, "y": {"datum": 9000, "axis": null}}
     },
     {
      "data": {"values": [{}]},
      "mark": {"type": "text", "text": ["4-body", "selection"], "fontSize": 14, "fontWeight": "bold", "color": "#a0a0a0", "align": "left", "baseline": "top", "lineHeight": 15, "dx": 851.5},
      "encoding": {"x": {"datum": "VRₜₜ²⁻ᵇᵒᵈʸ"}, "y": {"datum": 896, "axis": null}}
     }
    ]
   },
   {
    "width": 982, "height": 97,
    "view": {"stroke": "black", "strokeWidth": 2},
    "layer": [
     {
      "data": {"name": "b_bins"},
      "mark": {"type": "bar", "color": "#666666", "width": {"band": 0.8}},
      "encoding": {
       "x": {"field": "label", "type": "nominal",
             "scale": {"domain": ["VRₜₜ²⁻ᵇᵒᵈʸ","VR²⁻ᵇᵒᵈʸ VV-DF","SRA₁₈₀²⁻ᵇᵒᵈʸ SF","SRA₁₈₀²⁻ᵇᵒᵈʸ DF","SRB₁₄₀²⁻ᵇᵒᵈʸ SF","SRB₁₄₀²⁻ᵇᵒᵈʸ DF","VRₜₜ,₃ⱼ²⁻ᵇᵒᵈʸ","SRC₁₁₀²⁻ᵇᵒᵈʸ SF","SRC₁₁₀²⁻ᵇᵒᵈʸ DF","VRₜₜ³⁻ᵇᵒᵈʸ","VR³⁻ᵇᵒᵈʸ VV-SF","VR³⁻ᵇᵒᵈʸ VV-DF","SR³⁻ᵇᵒᵈʸ W SF","SR³⁻ᵇᵒᵈʸ W DF","SRₜ³⁻ᵇᵒᵈʸ SF","SRₜ³⁻ᵇᵒᵈʸ DF","VRₜₜ⁴⁻ᵇᵒᵈʸ","VR⁴⁻ᵇᵒᵈʸ VV","VR⁴⁻ᵇᵒᵈʸ Zττ","SR⁴⁻ᵇᵒᵈʸ"], "paddingInner": 0, "paddingOuter": 0},
             "axis": {"title": null, "bandPosition": 0, "ticks": false, "domain": false, "grid": true, "gridDash": [2, 3], "gridColor": "black", "gridWidth": 1.2,
                      "labelAngle": 20, "labelAlign": "left", "labelBaseline": "top", "labelOffset": 0, "labelPadding": 10,
                      "labelFontSize": 12, "labelFontStyle": "italic", "labelLimit": 0, "labelOverlap": false, "labelColor": "#222222"}},
       "y": {"field": "pull", "type": "quantitative",
             "scale": {"domain": [-3.5, 3.6], "nice": false},
             "axis": {"values": [-2, 0, 2], "labelExpr": "datum.value == 2 ? '2' : datum.value == 0 ? '0' : '−2'",
                      "labelFontSize": 14, "labelPadding": 7, "tickSize": 0, "domain": false, "tickWidth": 1.5,
                      "encode": {"ticks": {"update": {"x2": {"value": 14}}}},
                      "grid": true, "gridDash": [2, 3], "gridColor": "black", "gridWidth": 1.2,
                      "title": "(nₒbₛ−nₑₓₚ)/σₜₒₜ", "titleFontSize": 14, "titleX": -52, "titleY": 48.5, "titleAngle": -90, "titleAlign": "center", "titleBaseline": "top"}},
       "y2": {"datum": 0}
      }
     }
    ]
   }
  ],
  "spacing": 0,
  "bounds": "flush",
  "resolve": {"scale": {"x": "independent", "y": "independent", "fill": "independent", "stroke": "independent", "shape": "independent"}}
 }
],
"resolve": {"scale": {"x": "independent", "y": "independent", "fill": "independent", "stroke": "independent", "shape": "independent"}, "legend": {"fill": "independent", "stroke": "independent", "shape": "independent"}},
"config": {
 "font": "Liberation Sans",
 "view": {"stroke": "black", "strokeWidth": 1.5},
 "axis": {"labelFont": "Liberation Sans", "titleFont": "Liberation Sans", "titleFontWeight": "normal", "labelColor": "black", "titleColor": "black", "tickColor": "black", "grid": false},
 "legend": {"labelFont": "Liberation Sans", "labelColor": "black"},
 "text": {"font": "Liberation Sans"},
 "title": {"font": "Liberation Sans", "fontWeight": "normal"}
}
}
